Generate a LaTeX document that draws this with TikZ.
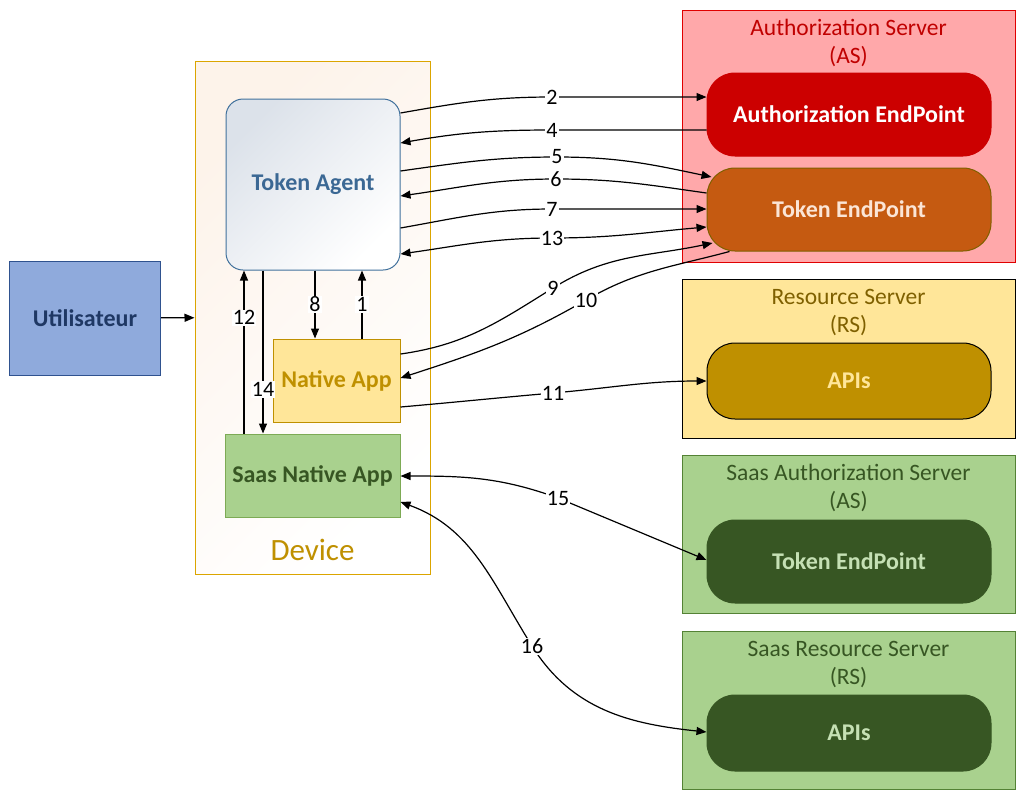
\documentclass[tikz,border=0pt]{standalone}
\usepackage{fontspec}
\setmainfont{Carlito}
\usetikzlibrary{arrows.meta,positioning}
\definecolor{userfill}{HTML}{8FAADC}
\definecolor{userdraw}{HTML}{2F528F}
\definecolor{usertext}{HTML}{1F3864}
\definecolor{devdraw}{HTML}{DBA500}
\definecolor{devfill}{HTML}{FDF3EA}
\definecolor{devtext}{HTML}{BF9000}
\definecolor{tadraw}{HTML}{41719C}
\definecolor{tafill}{HTML}{DCE2EA}
\definecolor{tatext}{HTML}{3B6894}
\definecolor{appfill}{HTML}{FFE699}
\definecolor{appdraw}{HTML}{BF9000}
\definecolor{saasfill}{HTML}{A9D18E}
\definecolor{saasdraw}{HTML}{7DAA55}
\definecolor{saasline}{HTML}{548235}
\definecolor{saasdark}{HTML}{375623}
\definecolor{saastext}{HTML}{C5E0B4}
\definecolor{asfill}{HTML}{FFA8AA}
\definecolor{asdraw}{HTML}{E00000}
\definecolor{astext}{HTML}{C00000}
\definecolor{aefill}{HTML}{CC0000}
\definecolor{tefill}{HTML}{C55A11}
\definecolor{tedraw}{HTML}{806000}
\definecolor{tetext}{HTML}{FBE5D6}
\definecolor{rstext}{HTML}{7F6000}
\begin{document}
\begin{tikzpicture}[x=1pt,y=1pt,>={Triangle[length=10pt,width=8pt]}]
      \tikzstyle{bold text}=[font=\fontsize{24}{28}\selectfont\bfseries]
      \tikzstyle{title}=[font=\fontsize{23.5}{28}\selectfont,align=center]
      \tikzstyle{num}=[fill=white,inner sep=1pt,font=\fontsize{22}{22}\selectfont]
      \tikzstyle{server}=[draw,line width=1pt,minimum width=333pt]
      \tikzstyle{end point}=[bold text,draw,line width=1pt,rounded corners=28pt,minimum width=284pt,minimum height=83pt]
      \tikzstyle{link}=[line width=1.2pt]
      \useasboundingbox (0,0) rectangle (1031,-804);

      \node(user)[draw=userdraw,fill=userfill,line width=1pt,minimum width=151pt,minimum height=114pt,bold text,text=usertext] at (85,-318) {Utilisateur};
      \node(device)[draw=devdraw,line width=1pt,top color=devfill,bottom color=white,shading angle=45,minimum width=235pt,minimum height=513pt] at (312.5,-317.5) {};
      \node(devlabel)[font=\fontsize{31}{31}\selectfont,text=devtext] at ([yshift=25pt]device.south) {Device};
      \node(ta)[draw=tadraw,line width=1pt,rounded corners=17pt,top color=tafill,bottom color=white,shading angle=45,minimum width=174pt,minimum height=171pt,bold text,text=tatext] at (313,-184.5) {Token Agent};
      \node(na)[draw=appdraw,fill=appfill,line width=1pt,minimum width=127pt,minimum height=83pt,bold text,text=appdraw] at (336.5,-380.5) {Native App};
      \node(sna)[draw=saasdraw,fill=saasfill,line width=1pt,minimum width=175pt,minimum height=83pt,bold text,text=saasdark] at (312.5,-475.5) {Saas Native App};

      \node(as)[server,draw=asdraw,fill=asfill,minimum height=252pt] at (848.5,-136) {};
      \node(astitle)[title,text=astext] at ([yshift=-33.5pt]as.north) {Authorization Server\\(AS)};
      \node(ae)[end point,draw=aefill,fill=aefill,text=white] at (849,-114.5) {Authorization EndPoint};
      \node(te)[end point,draw=tedraw,fill=tefill,text=tetext] at (849,-209.5) {Token EndPoint};

      \node(rs)[server,draw=black,fill=appfill,minimum height=159pt] at (848.5,-358.5) {};
      \node(rstitle)[title,text=rstext] at ([yshift=-33.5pt]rs.north) {Resource Server\\(RS)};
      \node(api)[end point,draw=black,fill=appdraw,text=appfill,minimum height=76pt] at (849,-381) {APIs};

      \node(sas)[server,draw=saasline,fill=saasfill,minimum height=158pt] at (848.5,-534) {};
      \node(sastitle)[title,text=saasdark] at ([yshift=-33.5pt]sas.north) {Saas Authorization Server\\(AS)};
      \node(ste)[end point,draw=saasdark,fill=saasdark,text=saastext] at (849,-561.5) {Token EndPoint};

      \node(srs)[server,draw=saasline,fill=saasfill,minimum height=158pt] at (848.5,-710) {};
      \node(srstitle)[title,text=saasdark] at ([yshift=-33.5pt]srs.north) {Saas Resource Server\\(RS)};
      \node(sapi)[end point,draw=saasdark,fill=saasdark,text=saastext,minimum height=76pt] at (849,-733) {APIs};

      \draw[link,->] (user) -- (device);
      \draw[link,->] (315,0|-ta.south) -- node[num]{8} (315,0|-na.north);
      \draw[link,->] (362,0|-na.north) -- node[num]{1} (362,0|-ta.south);
      \draw[link,->] (244,0|-sna.north) -- node[num,pos=0.71]{12} (244,0|-ta.south);
      \draw[link,->] (263,0|-ta.south) -- node[num,pos=0.73]{14} (263,0|-sna.north);

      \draw[link,->] (ta.east|-0,-113) to[out=10,in=180] (552,-97) node[num]{2} -- (ae.west|-0,-97);
      \draw[link,->] (ae.west|-0,-130) -- (552,-130) node[num]{4} to[out=180,in=10] (ta.east|-0,-143);
      \draw[link,->] (ta.east|-0,-171) to[out=8,in=180] (557,-157) node[num]{5} to[out=0,in=168] ([xshift=5pt]te.west|-0,-177);
      \draw[link,->] (te.west|-0,-193) to[out=172,in=0] (556,-179) node[num]{6} to[out=180,in=8] (ta.east|-0,-196);
      \draw[link,->] (ta.east|-0,-228) to[out=10,in=180] (552,-209) node[num]{7} -- (te.west|-0,-209);
      \draw[link,<->] (ta.east|-0,-254) to[out=8,in=180] (552,-238) node[num]{13} to[out=0,in=185] (te.west|-0,-227);
      \draw[link,->] (na.east|-0,-354) to[out=8,in=212] (553,-288) node[num]{9} to[out=32,in=192] ([xshift=6pt]te.west|-0,-243);
      \draw[link,->] ([xshift=23pt]te.south west) to[out=195,in=30] (586,-300) node[num]{10} to[out=210,in=18] (na.east|-0,-378);
      \draw[link,->] (na.east|-0,-407) to[out=5,in=185] (553,-393) node[num]{11} to[out=5,in=180] (api.west|-0,-381);
      \draw[link,<->] (sna.east|-0,-476) to[out=0,in=160] (558,-498) node[num]{15} -- (ste.west|-0,-560);
      \draw[link,<->] (sna.east|-0,-502) to[out=-20,in=122] (532,-646) node[num]{16} to[out=-58,in=174] (sapi.west|-0,-732);
\end{tikzpicture}
\end{document}
